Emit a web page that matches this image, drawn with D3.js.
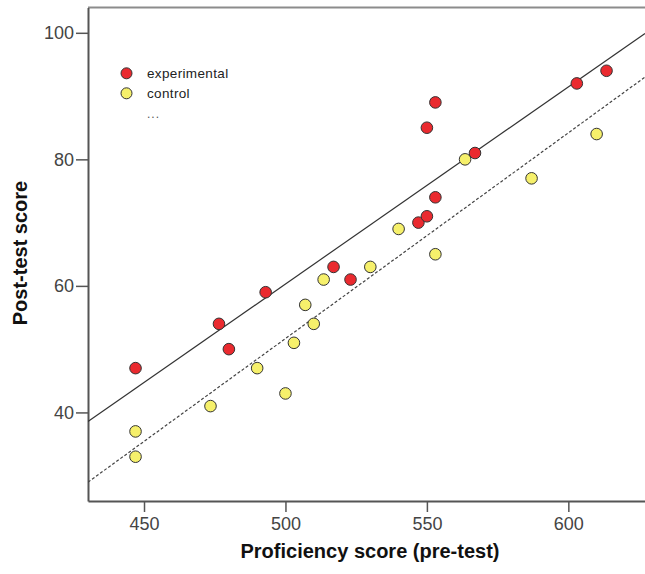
<!DOCTYPE html>
<html><head><meta charset="utf-8">
<script src="https://cdn.jsdelivr.net/npm/d3@7/dist/d3.min.js"></script>
<style>
body{margin:0;background:#fff;}
svg{display:block;font-family:Arial,"Liberation Sans",sans-serif;}
</style></head>
<body><svg id="c" width="645" height="574"></svg>
<script>
// Data
const groups = ["experimental", "control"];
const expX = [447, 476.5, 480, 493, 517, 523, 547, 550, 553, 550, 553, 567, 603, 613.5];
const expY = [47, 54, 50, 59, 63, 61, 70, 71, 74, 85, 89, 81, 92, 94];
const ctlX = [447, 447, 473.5, 490, 500, 503, 507, 510, 513.5, 530, 540, 553, 563.5, 587, 610];
const ctlY = [37, 33, 41, 47, 43, 51, 57, 54, 61, 63, 69, 65, 80, 77, 84];
// Fit lines: [x0, y0, x1, y1] in data units
const expFit = [430.2, 38.55, 627.1, 99.9];
const ctlFit = [430.2, 28.98, 627.1, 93.0];
const xTicks = [450, 500, 550, 600];
const yTicks = [40, 60, 80, 100];
const xDomain = [430.2, 627.1];
const yDomain = [26, 104];
const xTitle = "Proficiency score (pre-test)";
const yTitle = "Post-test score";

const colors = {experimental: "#ea2a2f", control: "#f6f06b"};
const svg = d3.select("#c");
const L = 88, R = 645, T = 7.5, B = 501;
const x = d3.scaleLinear().domain(xDomain).range([L, R]);
const y = d3.scaleLinear().domain(yDomain).range([B, T]);

svg.append("defs").append("clipPath").attr("id","clip")
  .append("rect").attr("x",L).attr("y",T).attr("width",R-L).attr("height",B-T);

// top frame line
svg.append("line").attr("x1",L).attr("x2",R).attr("y1",T).attr("y2",T)
  .attr("stroke","#8c8c8c").attr("stroke-width",2);

// axes
const yAxis = svg.append("g").attr("transform",`translate(${L},0)`)
  .call(d3.axisLeft(y).tickValues(yTicks).tickSize(12).tickPadding(2).tickSizeOuter(0));
const xAxis = svg.append("g").attr("transform",`translate(0,${B})`)
  .call(d3.axisBottom(x).tickValues(xTicks).tickSize(11).tickPadding(5).tickSizeOuter(0));
[yAxis, xAxis].forEach(g=>{
  g.select(".domain").attr("stroke","#555").attr("stroke-width",2);
  g.selectAll(".tick line").attr("stroke","#555").attr("stroke-width",1.5);
  g.selectAll(".tick text").attr("fill","#444").style("font-size","18px")
   .style("font-family","Arial, 'Liberation Sans', sans-serif");
});

// fit lines
const plot = svg.append("g").attr("clip-path","url(#clip)");
plot.append("line")
  .attr("x1",x(expFit[0])).attr("y1",y(expFit[1])).attr("x2",x(expFit[2])).attr("y2",y(expFit[3]))
  .attr("stroke","#333").attr("stroke-width",1.2);
plot.append("line")
  .attr("x1",x(ctlFit[0])).attr("y1",y(ctlFit[1])).attr("x2",x(ctlFit[2])).attr("y2",y(ctlFit[3]))
  .attr("stroke","#444").attr("stroke-width",1.2).attr("stroke-dasharray","3,2");

// points
const expPts = expX.map((v,i)=>({x:v,y:expY[i],g:"experimental"}));
const ctlPts = ctlX.map((v,i)=>({x:v,y:ctlY[i],g:"control"}));
plot.selectAll("circle.pt").data(ctlPts.concat(expPts)).join("circle")
  .attr("class","pt")
  .attr("cx",d=>x(d.x)).attr("cy",d=>y(d.y)).attr("r",5.8)
  .attr("fill",d=>colors[d.g]).attr("stroke","#333").attr("stroke-width",1);

// legend
const leg = svg.append("g");
groups.forEach((gname,i)=>{
  const cy = 73.3 + i*20;
  leg.append("circle").attr("cx",126.5).attr("cy",cy).attr("r",5.5)
    .attr("fill",colors[gname]).attr("stroke","#333").attr("stroke-width",1);
  leg.append("text").attr("x",147).attr("y",cy+4.8).text(gname)
    .attr("fill","#222").style("font-size","13.5px").style("letter-spacing","0.35px");
});
leg.append("text").attr("x",147).attr("y",118).text("...")
  .attr("fill","#555").style("font-size","12px").style("letter-spacing","1px");

// titles
svg.append("text").attr("x",370).attr("y",558).attr("text-anchor","middle")
  .style("font-size","20px").style("font-weight","bold").attr("fill","#111").text(xTitle);
svg.append("text").attr("transform","translate(27,253) rotate(-90)").attr("text-anchor","middle")
  .style("font-size","20px").style("font-weight","bold").attr("fill","#111").text(yTitle);
</script></body></html>
